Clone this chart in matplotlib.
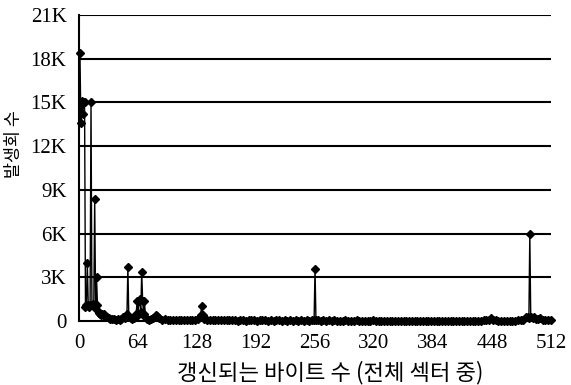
import matplotlib.pyplot as plt

# 갱신되는 바이트 수 (x) 와 발생회 수 (y, 단위: 회)
byte_counts = [1, 2, 3, 4, 5, 6, 7, 8, 9, 10, 11, 12, 13, 14, 15, 16, 17, 18, 19, 20,
               21, 22, 23, 24, 25, 26, 27, 28, 29, 30, 32, 34, 36, 38, 40, 42, 44, 46, 48, 50,
               52, 53, 54, 56, 58, 60, 62, 63, 64, 65, 66, 67, 68, 69, 70, 71, 72, 74, 76, 78,
               80, 83, 85, 87, 90, 93, 96, 99, 102, 105, 108, 111, 114, 117, 120, 123, 126, 129, 131, 132,
               133, 134, 136, 139, 142, 145, 148, 151, 154, 157, 160, 163, 166, 169, 172, 175, 178, 181, 184, 187,
               190, 193, 196, 199, 202, 205, 208, 211, 214, 217, 220, 223, 226, 229, 232, 235, 238, 241, 244, 247,
               250, 253, 255, 256, 257, 259, 262, 265, 268, 271, 274, 277, 280, 283, 286, 289, 292, 295, 298, 301,
               304, 307, 310, 313, 316, 319, 322, 325, 328, 331, 334, 337, 340, 343, 346, 349, 352, 355, 358, 361,
               364, 367, 370, 373, 376, 379, 382, 385, 388, 391, 394, 397, 400, 403, 406, 409, 412, 415, 418, 421,
               424, 427, 430, 433, 436, 439, 442, 445, 447, 449, 452, 455, 458, 461, 464, 467, 470, 473, 476, 479,
               482, 485, 487, 488, 489, 490, 492, 494, 496, 498, 500, 503, 506, 509, 512]
occurrences = [18400, 13600, 15100, 14200, 15000, 15000, 1000, 1100, 4000, 1100, 1000, 1100, 15000, 1100, 1200, 1000, 8400, 1100, 3000, 1100,
               700, 550, 500, 450, 500, 400, 500, 350, 300, 250, 200, 150, 150, 120, 100, 120, 100, 150, 300, 200,
               500, 3700, 300, 200, 150, 200, 500, 1400, 400, 1400, 1500, 600, 3400, 1400, 500, 1400, 300, 150, 100, 120,
               200, 400, 350, 200, 100, 120, 100, 80, 100, 80, 60, 80, 100, 80, 60, 80, 100, 150, 250, 400,
               1050, 400, 150, 80, 60, 80, 60, 50, 60, 80, 60, 50, 60, 50, 40, 60, 50, 40, 50, 60,
               50, 40, 50, 60, 50, 40, 50, 40, 50, 60, 40, 50, 40, 50, 40, 50, 40, 50, 40, 50,
               40, 60, 100, 3600, 100, 50, 40, 50, 40, 50, 40, 50, 40, 30, 40, 50, 40, 30, 40, 50,
               40, 30, 40, 30, 40, 50, 40, 30, 40, 30, 40, 30, 40, 30, 40, 30, 40, 30, 40, 30,
               40, 30, 40, 30, 40, 30, 40, 30, 40, 30, 40, 30, 40, 30, 40, 30, 40, 30, 40, 30,
               40, 30, 40, 30, 40, 50, 60, 100, 200, 100, 50, 40, 30, 40, 30, 40, 30, 40, 50, 60,
               100, 300, 250, 200, 6000, 300, 200, 250, 150, 120, 200, 100, 100, 80, 50]

y_ticks = [0, 3000, 6000, 9000, 12000, 15000, 18000, 21000]
y_tick_labels = ['0', '3K', '6K', '9K', '12K', '15K', '18K', '21K']
x_ticks = [0, 64, 128, 192, 256, 320, 384, 448, 512]

fig = plt.figure(figsize=(5.71, 3.85), dpi=100)
ax = fig.add_axes([0.1384, 0.166, 0.8266, 0.795])

for t in y_ticks[1:]:
    ax.axhline(t, color='black', linewidth=1.5, zorder=1)

ax.plot(byte_counts, occurrences, color='black', linewidth=1.0,
        marker='D', markersize=4, zorder=3, clip_on=False)

ax.set_xlim(0, 512)
ax.set_ylim(0, 21000)
ax.set_yticks(y_ticks)
ax.set_yticklabels(y_tick_labels)
ax.set_xticks(x_ticks)
ax.tick_params(length=0, pad=9)
for lab in ax.get_xticklabels() + ax.get_yticklabels():
    lab.set_family('Liberation Serif')
    lab.set_fontsize(15)

for side in ['top', 'right']:
    ax.spines[side].set_visible(False)
ax.spines['left'].set_linewidth(1.5)
ax.spines['bottom'].set_linewidth(1.5)

ax.set_xlabel('갱신되는 바이트 수 (전체 섹터 중)', family='Noto Sans CJK KR', fontsize=16)
ax.xaxis.set_label_coords(0.532, -0.13)
ax.set_ylabel('발생회 수', family='Noto Sans CJK KR', fontsize=12.5)
ax.yaxis.label.set_va('center')
ax.yaxis.set_label_coords(-0.138, 0.58)

plt.savefig('out.png', dpi=100)
